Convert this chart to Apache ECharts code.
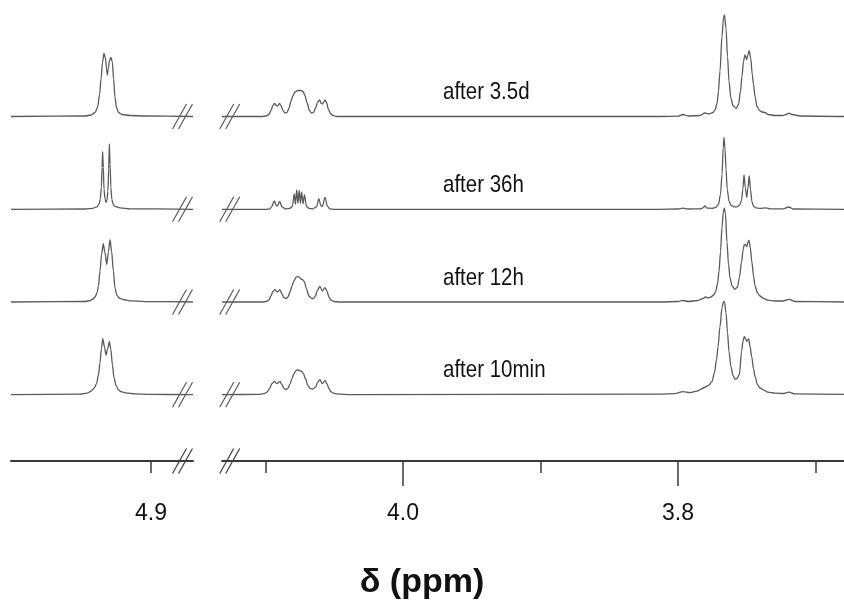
<!DOCTYPE html>
<html><head><meta charset="utf-8">
<script src="https://cdn.jsdelivr.net/npm/echarts@6/dist/echarts.min.js"></script>
<style>html,body{margin:0;padding:0;background:#fff}#c{width:844px;height:601px}</style>
</head><body><div id="c"></div>
<script>
// ---- data ----
const traceNames = ['after 3.5d', 'after 36h', 'after 12h', 'after 10min'];
const leftRange = [4.8695, 5.0018];
const rightRange = [3.6793, 4.1316];
const leftTicks = [4.9];
const leftTickLabels = [4.9];
const rightTicks = [4.1, 4.0, 3.9, 3.8, 3.7];
const rightMajorTicks = [4.0, 3.8];
const rightTickLabels = [4.0, 3.8];

// [ppm, intensity] pairs
const d35Left = [[5.0018,0],[4.9480,0.5],[4.9436,1.5],[4.9407,4],[4.9389,9],[4.9374,22],[4.9363,38],[4.9353,54],[4.9342,63],[4.9331,58],[4.9323,47],[4.9318,41.5],[4.9311,48],[4.9302,56],[4.9291,59],[4.9281,54],[4.9272,37],[4.9262,19],[4.9251,9],[4.9236,4],[4.9211,2],[4.9152,1],[4.9043,0.5],[4.8695,0]];
const d35Right = [[4.1316,0],[4.1026,0],[4.0996,0.5],[4.0975,2],[4.0960,6],[4.0946,11],[4.0935,13],[4.0920,11],[4.0913,10.5],[4.0898,13],[4.0887,11],[4.0873,6],[4.0858,3.5],[4.0844,4],[4.0829,8],[4.0815,15],[4.0800,21],[4.0786,24.5],[4.0764,26],[4.0742,26],[4.0727,25],[4.0713,21],[4.0698,14],[4.0680,6],[4.0666,3.5],[4.0651,4],[4.0636,8],[4.0622,14],[4.0607,16.5],[4.0593,13],[4.0586,12.5],[4.0578,14],[4.0567,16.5],[4.0556,14],[4.0542,7],[4.0527,3],[4.0509,1],[4.0480,0],[3.8131,0],[3.8000,0.3],[3.7964,2],[3.7927,0.5],[3.7840,1],[3.7804,3.5],[3.7775,2.5],[3.7746,4],[3.7731,6.5],[3.7716,13],[3.7706,25],[3.7695,45],[3.7680,80],[3.7669,99],[3.7662,101.5],[3.7651,88],[3.7640,60],[3.7629,35],[3.7615,18],[3.7600,11],[3.7578,8],[3.7560,12],[3.7546,25],[3.7535,40],[3.7524,55],[3.7513,61.5],[3.7500,57],[3.7491,62],[3.7482,65.8],[3.7471,58],[3.7460,42],[3.7451,32],[3.7440,20],[3.7426,10],[3.7407,6],[3.7389,4.5],[3.7367,4],[3.7346,2],[3.7295,1],[3.7236,1],[3.7215,2],[3.7193,3.3],[3.7171,2],[3.7113,0.5],[3.6793,0]];

const h36Left = [[5.0018,0],[4.9480,0.3],[4.9422,1],[4.9393,2.5],[4.9378,5],[4.9369,10],[4.9361,22],[4.9356,42],[4.9352,57.6],[4.9347,42],[4.9342,20],[4.9334,10],[4.9327,7],[4.9320,9],[4.9314,18],[4.9308,40],[4.9303,65.3],[4.9298,45],[4.9292,22],[4.9285,10],[4.9276,5],[4.9262,3],[4.9225,1.5],[4.9153,0.5],[4.8695,0]];
const h36Right = [[4.1316,0],[4.0996,0],[4.0967,0.5],[4.0953,3],[4.0936,8.5],[4.0920,3.5],[4.0913,3.5],[4.0897,8],[4.0880,2.5],[4.0858,0.5],[4.0822,1],[4.0804,3],[4.0791,15.5],[4.0782,5],[4.0773,19.5],[4.0764,6],[4.0755,19],[4.0746,6],[4.0737,17.5],[4.0727,5.5],[4.0716,14.5],[4.0702,3],[4.0684,1],[4.0655,0.5],[4.0629,2.5],[4.0612,10.5],[4.0596,3.5],[4.0586,3],[4.0567,12],[4.0549,3],[4.0531,0.5],[4.0502,0],[3.8131,0],[3.8000,0.3],[3.7964,1.2],[3.7927,0.3],[3.7840,0.5],[3.7818,1.5],[3.7804,3.3],[3.7789,1.2],[3.7753,1],[3.7724,2],[3.7706,5],[3.7691,15],[3.7680,35],[3.7671,62],[3.7666,72],[3.7658,60],[3.7651,40],[3.7642,20],[3.7629,8],[3.7615,4],[3.7593,2.5],[3.7571,2.5],[3.7553,4],[3.7538,9],[3.7529,20],[3.7520,34.3],[3.7511,22],[3.7500,12],[3.7491,22],[3.7482,33.3],[3.7473,20],[3.7463,8],[3.7451,3],[3.7433,1.5],[3.7404,1],[3.7360,1.5],[3.7331,0.5],[3.7236,0.5],[3.7193,2.3],[3.7164,0.3],[3.6793,0]];

const h12Left = [[5.0018,0],[4.9480,0.5],[4.9443,1.5],[4.9422,3],[4.9407,5],[4.9393,9],[4.9382,16],[4.9371,31],[4.9360,47],[4.9347,58.4],[4.9336,50],[4.9322,37.7],[4.9310,50],[4.9298,62.4],[4.9286,50],[4.9274,31],[4.9262,14],[4.9249,7],[4.9233,4],[4.9203,2.5],[4.9153,1.2],[4.9043,0.4],[4.8695,0]];
const h12Right = [[4.1316,0],[4.1026,0],[4.0996,0.5],[4.0975,2],[4.0960,6],[4.0946,10.5],[4.0931,12.4],[4.0913,10],[4.0895,12.4],[4.0880,8],[4.0866,4.5],[4.0851,3.4],[4.0836,5],[4.0822,10],[4.0807,16],[4.0793,21],[4.0778,24.5],[4.0766,25.7],[4.0753,24.5],[4.0742,23],[4.0730,22.4],[4.0716,20],[4.0702,13],[4.0684,6],[4.0666,3.6],[4.0651,3.4],[4.0636,6],[4.0622,12],[4.0604,15.7],[4.0586,11],[4.0567,14.4],[4.0553,11],[4.0538,5],[4.0524,2],[4.0502,0.5],[4.0458,0],[3.8131,0],[3.8000,0.5],[3.7964,1.5],[3.7927,0.5],[3.7855,1.5],[3.7826,3],[3.7800,5],[3.7782,4],[3.7760,5],[3.7742,7],[3.7727,10],[3.7713,18],[3.7702,30],[3.7691,50],[3.7680,75],[3.7671,90],[3.7663,94],[3.7655,88],[3.7644,60],[3.7633,38],[3.7622,24],[3.7607,16],[3.7586,12.7],[3.7567,15],[3.7553,25],[3.7538,40],[3.7527,52],[3.7518,57.7],[3.7509,57],[3.7500,55.4],[3.7491,60],[3.7484,61.7],[3.7474,54],[3.7463,40],[3.7451,26],[3.7440,16],[3.7422,9],[3.7404,6],[3.7382,4],[3.7367,3],[3.7346,1.8],[3.7295,1],[3.7236,1],[3.7193,2.7],[3.7149,0.5],[3.6793,0]];

const m10Left = [[5.0018,0],[4.9516,0.5],[4.9465,1.5],[4.9436,3.5],[4.9414,6.5],[4.9396,11],[4.9382,20],[4.9371,32],[4.9361,46],[4.9351,56],[4.9339,48],[4.9327,39.5],[4.9315,46],[4.9303,53],[4.9292,45],[4.9281,30],[4.9269,17],[4.9254,9],[4.9238,5],[4.9218,3],[4.9182,1.8],[4.9116,0.8],[4.9007,0.3],[4.8695,0]];
const m10Right = [[4.1316,0],[4.1055,0.3],[4.1011,1],[4.0989,2.5],[4.0971,6],[4.0953,11],[4.0936,13.3],[4.0916,11],[4.0895,13.3],[4.0880,10],[4.0866,6.5],[4.0853,5],[4.0836,6.5],[4.0822,10.5],[4.0807,16],[4.0793,21],[4.0778,24],[4.0766,25],[4.0753,24.2],[4.0737,23.3],[4.0724,21],[4.0709,16],[4.0691,9],[4.0673,6],[4.0655,5.7],[4.0636,7.5],[4.0622,12],[4.0604,15],[4.0586,11],[4.0567,14],[4.0553,11],[4.0538,6],[4.0524,3],[4.0502,1.3],[4.0458,0.5],[4.0386,0],[3.8131,0.5],[3.8022,1],[3.7964,3],[3.7913,2],[3.7862,3.5],[3.7826,6],[3.7800,7.7],[3.7775,9.5],[3.7753,13],[3.7735,22],[3.7720,35],[3.7709,48],[3.7695,68],[3.7680,87],[3.7669,93],[3.7662,93],[3.7651,82],[3.7640,62],[3.7629,43],[3.7615,28],[3.7600,19],[3.7586,15.7],[3.7571,16],[3.7554,20],[3.7537,44],[3.7527,54],[3.7518,58.3],[3.7509,56],[3.7500,53.3],[3.7493,55],[3.7486,55.7],[3.7476,48],[3.7464,38],[3.7451,26],[3.7440,18],[3.7422,10],[3.7404,6.7],[3.7382,5],[3.7367,4],[3.7346,2.5],[3.7295,1.5],[3.7236,1.2],[3.7193,2.5],[3.7149,0.8],[3.6793,0.3]];

const leftSegments = [d35Left, h36Left, h12Left, m10Left];
const rightSegments = [d35Right, h36Right, h12Right, m10Right];
// vertical stacking offset of each trace (intensity units)
const traceOffsets = [344.5, 251.7, 159, 66.3];

// ---- chart ----
const FONT = 'Liberation Sans, Arial, sans-serif';
const TRACE = '#5a5a5a';
const chart = echarts.init(document.getElementById('c'), null, {renderer: 'canvas'});
const fmt = v => Number(v).toFixed(1);

const series = [];
traceNames.forEach((name, i) => {
  [[leftSegments[i], 0], [rightSegments[i], 1]].forEach(([seg, g]) => {
    series.push({
      type: 'line', name: name, xAxisIndex: g, yAxisIndex: g,
      data: seg.map(p => [p[0], p[1] + traceOffsets[i]]),
      showSymbol: false, symbol: 'none', smooth: 0.3, smoothMonotone: 'x',
      lineStyle: {color: TRACE, width: 1.3}, silent: true, clip: true
    });
  });
});

const tickStyle = {color: '#3a3a3a', width: 1.5};
chart.setOption({
  animation: false,
  backgroundColor: '#fff',
  title: {text: 'δ (ppm)', left: 'center', top: 561,
    textStyle: {fontSize: 34, fontWeight: 'bold', fontFamily: FONT, color: '#111'}},
  grid: [
    {left: 11, width: 182, top: 0, height: 461},
    {left: 222, width: 622, top: 0, height: 461}
  ],
  xAxis: [
    {gridIndex: 0, type: 'value', position: 'bottom', min: leftRange[0], max: leftRange[1], inverse: true,
      axisLine: {onZero: false, lineStyle: {color: '#3a3a3a', width: 2}},
      axisTick: {customValues: leftTicks, length: 12, lineStyle: tickStyle},
      axisLabel: {customValues: leftTickLabels, formatter: fmt, margin: 41, fontSize: 23, fontFamily: FONT, color: '#111'},
      splitLine: {show: false}},
    {gridIndex: 1, type: 'value', position: 'bottom', min: rightRange[0], max: rightRange[1], inverse: true,
      axisLine: {onZero: false, lineStyle: {color: '#3a3a3a', width: 2}},
      axisTick: {customValues: rightTicks, length: 12, lineStyle: tickStyle},
      axisLabel: {customValues: rightTickLabels, formatter: fmt, margin: 41, fontSize: 23, fontFamily: FONT, color: '#111'},
      splitLine: {show: false}},
    {gridIndex: 1, type: 'value', position: 'bottom', offset: 0, min: rightRange[0], max: rightRange[1], inverse: true,
      axisLine: {show: false, onZero: false},
      axisTick: {show: true, customValues: rightMajorTicks, length: 25, lineStyle: tickStyle},
      axisLabel: {show: false}, splitLine: {show: false}}
  ],
  yAxis: [
    {gridIndex: 0, type: 'value', min: 0, max: 461, show: false},
    {gridIndex: 1, type: 'value', min: 0, max: 461, show: false}
  ],
  series: series
});

// decorations: break marks and trace labels
function breakPair(cxList, cy, stroke, w) {
  return cxList.map(cx => ({
    type: 'line', silent: true,
    shape: {x1: cx - 7, y1: cy + 12.5, x2: cx + 7, y2: cy - 12.5},
    style: {stroke: stroke, lineWidth: w}
  }));
}
const graphics = [];
const leftEnd = chart.convertToPixel({xAxisIndex: 0}, leftRange[0]);
const rightStart = chart.convertToPixel({xAxisIndex: 1}, rightRange[1]);
traceOffsets.forEach((off, i) => {
  const y = chart.convertToPixel({yAxisIndex: 0}, off);
  graphics.push(...breakPair([leftEnd - 13.5, leftEnd - 7.5], y, TRACE, 1.2));
  graphics.push(...breakPair([rightStart + 4.7, rightStart + 10.7], y, TRACE, 1.2));
  graphics.push({type: 'text', silent: true, x: 443, y: y - 24, scaleY: 1.15,
    style: {text: traceNames[i], fontSize: 20.5, fontFamily: FONT, fill: '#111', verticalAlign: 'middle', align: 'left'}});
});
const axisY = chart.convertToPixel({yAxisIndex: 0}, 0);
graphics.push(...breakPair([leftEnd - 13.5, leftEnd - 7.5], axisY, '#3a3a3a', 1.2));
graphics.push(...breakPair([rightStart + 4.7, rightStart + 10.7], axisY, '#3a3a3a', 1.2));
chart.setOption({graphic: graphics});
</script>
</body></html>
